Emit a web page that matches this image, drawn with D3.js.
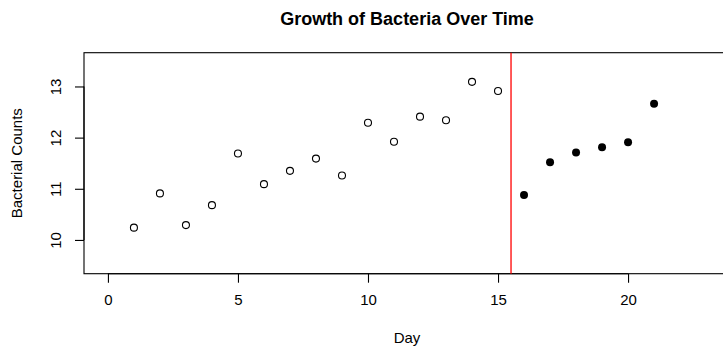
<!DOCTYPE html>
<html>
<head>
<meta charset="utf-8">
<script src="https://cdn.jsdelivr.net/npm/d3@7"></script>
<style>
  html, body { margin: 0; padding: 0; background: #ffffff; }
  svg { display: block; font-family: "Liberation Sans", Arial, Helvetica, sans-serif; }
</style>
</head>
<body>
<script>
// Observed bacterial counts (days 1-15) and follow-up counts (days 16-21)
const observedDays = [1, 2, 3, 4, 5, 6, 7, 8, 9, 10, 11, 12, 13, 14, 15];
const observedCounts = [10.24, 10.91, 10.29, 10.68, 11.69, 11.09, 11.35, 11.59, 11.26, 12.29, 11.92, 12.41, 12.34, 13.09, 12.91];
const laterDays = [16, 17, 18, 19, 20, 21];
const laterCounts = [10.88, 11.52, 11.71, 11.81, 11.91, 12.66];
const xTicks = [0, 5, 10, 15, 20];
const yTicks = [10, 11, 12, 13];
const cutoffDay = 15.5;
const xLimits = [0, 23];
const yLimits = [9.5, 13.5];

const W = 723, H = 347;
const plot = { left: 84, right: 730, top: 52.7, bottom: 273.7 };
const labelSize = 15;

// Axis limits padded by 4% on each side
const pad = (lim) => { const r = lim[1] - lim[0]; return [lim[0] - 0.04 * r, lim[1] + 0.04 * r]; };

const x = d3.scaleLinear().domain(pad(xLimits)).range([plot.left, plot.right]);
const y = d3.scaleLinear().domain(pad(yLimits)).range([plot.bottom, plot.top]);

const svg = d3.select("body").append("svg")
  .attr("width", W).attr("height", H)
  .attr("viewBox", `0 0 ${W} ${H}`);

svg.append("rect").attr("width", W).attr("height", H).attr("fill", "#fff");

// Title
svg.append("text")
  .attr("x", x((xLimits[0] + xLimits[1]) / 2))
  .attr("y", 24.5)
  .attr("text-anchor", "middle")
  .attr("font-size", 18)
  .attr("font-weight", "bold")
  .text("Growth of Bacteria Over Time");

// Plot frame
svg.append("rect")
  .attr("x", plot.left).attr("y", plot.top)
  .attr("width", plot.right - plot.left)
  .attr("height", plot.bottom - plot.top)
  .attr("fill", "none").attr("stroke", "#000").attr("stroke-width", 1.1);

// X axis
const xAxis = d3.axisBottom(x).tickValues(xTicks).tickSize(9).tickPadding(12).tickFormat(d3.format("d"));
const gx = svg.append("g").attr("transform", `translate(0,${plot.bottom})`).call(xAxis);
gx.select(".domain").attr("d", `M${x(xTicks[0])},0H${x(xTicks[xTicks.length - 1])}`).attr("stroke-width", 1.1);
gx.selectAll(".tick line").attr("stroke-width", 1.1);
gx.selectAll(".tick text").attr("font-size", labelSize).attr("font-family", null).attr("fill", "#000");

// Y axis with rotated labels
const yAxis = d3.axisLeft(y).tickValues(yTicks).tickSize(9).tickFormat(d3.format("d"));
const gy = svg.append("g").attr("transform", `translate(${plot.left},0)`).call(yAxis);
gy.select(".domain").attr("d", `M0,${y(yTicks[0])}V${y(yTicks[yTicks.length - 1])}`).attr("stroke-width", 1.1);
gy.selectAll(".tick line").attr("stroke-width", 1.1);
gy.selectAll(".tick text")
  .attr("font-size", labelSize).attr("font-family", null).attr("fill", "#000")
  .attr("x", null).attr("dy", null)
  .attr("text-anchor", "middle")
  .attr("transform", "translate(-29,0) rotate(-90)")
  .attr("dominant-baseline", "central");

// Axis titles
svg.append("text")
  .attr("x", x((xLimits[0] + xLimits[1]) / 2))
  .attr("y", 343)
  .attr("text-anchor", "middle")
  .attr("font-size", labelSize)
  .text("Day");

svg.append("text")
  .attr("transform", `translate(22,${(plot.top + plot.bottom) / 2}) rotate(-90)`)
  .attr("text-anchor", "middle")
  .attr("font-size", labelSize)
  .text("Bacterial Counts");

// Cutoff line between observation periods
svg.append("line")
  .attr("x1", x(cutoffDay)).attr("x2", x(cutoffDay))
  .attr("y1", plot.top).attr("y2", plot.bottom)
  .attr("stroke", "#ff0000").attr("stroke-width", 1.3);

// Observed points: open circles
svg.append("g").selectAll("circle")
  .data(observedDays.map((d, i) => [d, observedCounts[i]]))
  .join("circle")
  .attr("cx", d => x(d[0])).attr("cy", d => y(d[1]))
  .attr("r", 3.5)
  .attr("fill", "none").attr("stroke", "#000").attr("stroke-width", 1.1);

// Follow-up points: filled circles
svg.append("g").selectAll("circle")
  .data(laterDays.map((d, i) => [d, laterCounts[i]]))
  .join("circle")
  .attr("cx", d => x(d[0])).attr("cy", d => y(d[1]))
  .attr("r", 4)
  .attr("fill", "#000");
</script>
</body>
</html>
